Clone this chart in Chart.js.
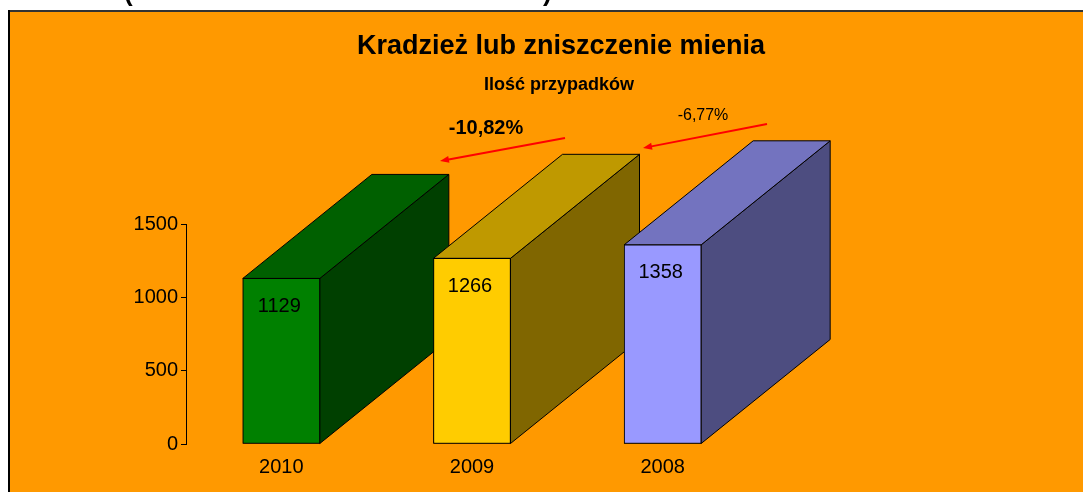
<!DOCTYPE html>
<html>
<head>
<meta charset="utf-8">
<script src="https://cdn.jsdelivr.net/npm/chart.js@4.4.0/dist/chart.umd.min.js"></script>
<style>
  html, body { margin: 0; padding: 0; background: #fff; }
  canvas { display: block; }
</style>
</head>
<body>
<canvas id="chart" width="1083" height="492"></canvas>
<script>
// data
const years = ['2010', '2009', '2008'];
const cases = [1129, 1266, 1358];
const yTicks = [0, 500, 1000, 1500];
const changeLabels = ['-10,82%', '-6,77%'];

const frontColors = ['#008000', '#FFCC00', '#9999FF'];
const topColors = ['#006000', '#BF9900', '#7373BF'];
const sideColors = ['#004000', '#806600', '#4D4D80'];

const FONT = "'Liberation Sans', Arial, sans-serif";
const DX = 129, DY = -104; // depth of the boxes

Chart.defaults.font.family = FONT;
Chart.defaults.color = '#000';

// orange frame behind everything
const frame = {
  id: 'frame',
  beforeDraw(chart) {
    const ctx = chart.ctx;
    ctx.save();
    ctx.fillStyle = '#fff';
    ctx.fillRect(0, 0, chart.width, chart.height);
    // cut-off heading above the frame
    ctx.fillStyle = '#000';
    ctx.font = 'bold 26px ' + FONT;
    ctx.textBaseline = 'alphabetic';
    ctx.fillText('(', 124, 1);
    ctx.fillText(')', 543, 1);
    ctx.fillStyle = '#FF9900';
    ctx.fillRect(8, 10, chart.width - 8, chart.height - 10);
    ctx.fillStyle = '#333';
    ctx.fillRect(8, 10, chart.width - 8, 2);
    ctx.fillStyle = '#000';
    ctx.fillRect(8, 10, 2, chart.height - 10);
    ctx.restore();
  }
};

// side and top faces, drawn box by box so the next front covers the previous side
const boxes = {
  id: 'boxes',
  afterDatasetsDraw(chart) {
    const ctx = chart.ctx;
    const meta = chart.getDatasetMeta(0);
    ctx.save();
    ctx.lineWidth = 1;
    ctx.strokeStyle = '#000';
    ctx.lineJoin = 'round';
    meta.data.forEach((bar, i) => {
      const { x, y, base, width } = bar.getProps(['x', 'y', 'base', 'width'], true);
      const l = x - width / 2, r = x + width / 2;

      ctx.beginPath();
      ctx.moveTo(r, y);
      ctx.lineTo(r + DX, y + DY);
      ctx.lineTo(r + DX, base + DY);
      ctx.lineTo(r, base);
      ctx.closePath();
      ctx.fillStyle = sideColors[i];
      ctx.fill();
      ctx.stroke();

      ctx.beginPath();
      ctx.moveTo(l, y);
      ctx.lineTo(l + DX, y + DY);
      ctx.lineTo(r + DX, y + DY);
      ctx.lineTo(r, y);
      ctx.closePath();
      ctx.fillStyle = topColors[i];
      ctx.fill();
      ctx.stroke();

      bar.draw(ctx);

      ctx.fillStyle = '#000';
      ctx.font = '20px ' + FONT;
      ctx.textAlign = 'center';
      ctx.textBaseline = 'middle';
      ctx.fillText(String(cases[i]), x - 2, y + 28);
    });
    ctx.restore();
  }
};

// titles and the change arrows
const notes = {
  id: 'notes',
  afterDraw(chart) {
    const ctx = chart.ctx;
    ctx.save();
    ctx.fillStyle = '#000';
    ctx.textAlign = 'center';
    ctx.textBaseline = 'middle';
    ctx.font = 'bold 27px ' + FONT;
    ctx.fillText('Kradzież lub zniszczenie mienia', 561, 47);
    ctx.font = 'bold 18px ' + FONT;
    ctx.fillText('Ilość przypadków', 559, 85);

    ctx.font = 'bold 20px ' + FONT;
    ctx.fillText(changeLabels[0], 486, 128);
    ctx.font = '16px ' + FONT;
    ctx.fillText(changeLabels[1], 703, 116);

    const arrow = (x1, y1, x2, y2) => {
      const a = Math.atan2(y2 - y1, x2 - x1);
      ctx.strokeStyle = '#FF0000';
      ctx.fillStyle = '#FF0000';
      ctx.lineWidth = 2;
      ctx.beginPath();
      ctx.moveTo(x1, y1);
      ctx.lineTo(x2 - 6 * Math.cos(a), y2 - 6 * Math.sin(a));
      ctx.stroke();
      ctx.beginPath();
      ctx.moveTo(x2, y2);
      ctx.lineTo(x2 - 9 * Math.cos(a) + 3.5 * Math.sin(a), y2 - 9 * Math.sin(a) - 3.5 * Math.cos(a));
      ctx.lineTo(x2 - 9 * Math.cos(a) - 3.5 * Math.sin(a), y2 - 9 * Math.sin(a) + 3.5 * Math.cos(a));
      ctx.closePath();
      ctx.fill();
    };
    arrow(565, 138, 440, 161);
    arrow(767, 124, 643, 148);
    ctx.restore();
  }
};

new Chart(document.getElementById('chart'), {
  type: 'bar',
  data: {
    labels: years,
    datasets: [{
      data: cases,
      backgroundColor: frontColors,
      borderColor: '#000',
      borderWidth: 1,
      borderSkipped: false,
      barThickness: 77
    }]
  },
  options: {
    responsive: false,
    animation: false,
    events: [],
    layout: { padding: { top: 224, right: 325, bottom: 0, left: 0 } },
    plugins: {
      legend: { display: false },
      tooltip: { enabled: false }
    },
    scales: {
      x: {
        offset: true,
        grid: { display: false, drawTicks: false },
        border: { display: false },
        ticks: { font: { size: 20 }, padding: 11, color: '#000' },
        afterFit: (scale) => { scale.height = 48; }
      },
      y: {
        min: 0,
        max: 1500,
        afterBuildTicks: (scale) => { scale.ticks = yTicks.map(v => ({ value: v })); },
        grid: { drawOnChartArea: false, tickLength: 5, color: '#000' },
        border: { display: true, color: '#000', width: 1 },
        ticks: { font: { size: 20 }, padding: 3, color: '#000', callback: (v) => String(v) },
        afterFit: (scale) => { scale.width = 186; }
      }
    }
  },
  plugins: [frame, boxes, notes]
});
</script>
</body>
</html>
